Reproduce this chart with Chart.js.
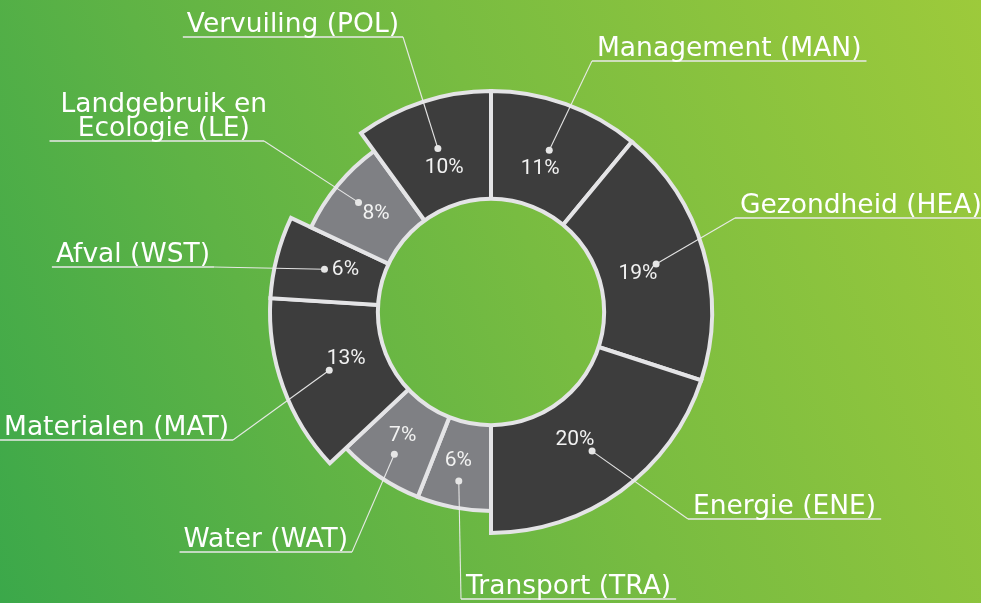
<!DOCTYPE html>
<html>
<head>
<meta charset="utf-8">
<script src="https://cdn.jsdelivr.net/npm/chart.js@4/dist/chart.umd.min.js"></script>
<style>
  html, body {
    margin: 0;
    padding: 0;
    width: 981px;
    height: 603px;
    overflow: hidden;
    background: linear-gradient(68deg, #3ba84a 0%, #5fb345 30%, #78bc41 55%, #9dca3b 100%);
  }
  #wrap { position: relative; width: 981px; height: 603px; }
</style>
</head>
<body>
<div id="wrap"><canvas id="chart"></canvas></div>
<script>
// BREEAM categorieën, kloksgewijs vanaf boven
const categories = [
  'Management (MAN)',
  'Gezondheid (HEA)',
  'Energie (ENE)',
  'Transport (TRA)',
  'Water (WAT)',
  'Materialen (MAT)',
  'Afval (WST)',
  ['Landgebruik en', 'Ecologie (LE)'],
  'Vervuiling (POL)'
];
// aandeel in % (hoek van het segment)
const shares = [11, 19, 20, 6, 7, 13, 6, 8, 10];
// buitenstraal van het segment (relatief, 100 = volle ring)
const ringSize = [100, 100, 100, 90, 90, 100, 100, 90, 100];

const DARK = '#3d3d3d';
const LIGHT = '#7f8084';
const RING_BORDER = '#e4e4e6';
const HOLE_RATIO = 0.512;   // gat in het midden, deel van de straal
const DOT_RATIO = 0.778;

// knikpunt van elke callout t.o.v. het midden, en de kant waar de tekst staat
const calloutLayout = [
  { dx: 101, dy: -251, side: 'right' },
  { dx: 244, dy: -94, side: 'right' },
  { dx: 197, dy: 207, side: 'right' },
  { dx: -30, dy: 287, side: 'right' },
  { dx: -139, dy: 240, side: 'left' },
  { dx: -258, dy: 128, side: 'left' },
  { dx: -277, dy: -45, side: 'left' },
  { dx: -227, dy: -171, side: 'left' },
  { dx: -88, dy: -275, side: 'left' }
];

const totalShare = shares.reduce((a, b) => a + b, 0);

const calloutPlugin = {
  id: 'callouts',
  afterDatasetsDraw(chart) {
    const ctx = chart.ctx;
    const scale = chart.scales.r;
    const cx = scale.xCenter;
    const cy = scale.yCenter;
    const R = scale.drawingArea;
    const holeR = R * HOLE_RATIO;

    ctx.save();
    // gat uitsnijden zodat de achtergrond zichtbaar wordt
    ctx.globalCompositeOperation = 'destination-out';
    ctx.beginPath();
    ctx.arc(cx, cy, holeR, 0, Math.PI * 2);
    ctx.fill();
    ctx.globalCompositeOperation = 'source-over';
    ctx.lineWidth = 4;
    ctx.strokeStyle = RING_BORDER;
    ctx.beginPath();
    ctx.arc(cx, cy, holeR, 0, Math.PI * 2);
    ctx.stroke();

    const arcs = chart.getDatasetMeta(0).data;
    arcs.forEach((arc, i) => {
      const mid = (arc.startAngle + arc.endAngle) / 2;
      const dot = { x: cx + Math.cos(mid) * R * DOT_RATIO, y: cy + Math.sin(mid) * R * DOT_RATIO };
      const lay = calloutLayout[i];
      const elbow = { x: cx + lay.dx, y: cy + lay.dy };

      // percentage staat aan de andere kant van de stip dan de aanwijslijn
      const vx = dot.x - elbow.x, vy = dot.y - elbow.y;
      const vl = Math.hypot(vx, vy);
      const pct = { x: dot.x + vx / vl * 21, y: dot.y + vy / vl * 20 };

      // tekst meten
      const lines = Array.isArray(categories[i]) ? categories[i] : [categories[i]];
      ctx.font = '26.5px "DejaVu Sans"';
      const maxW = Math.max(...lines.map(l => ctx.measureText(l).width));

      let lineStart, lineEnd;
      if (lay.side === 'right') {
        lineStart = elbow.x;
        lineEnd = elbow.x + maxW + 10;
      } else {
        lineStart = elbow.x - maxW - 8;
        lineEnd = elbow.x;
      }

      // aanwijslijn
      ctx.strokeStyle = 'rgba(236,236,236,0.95)';
      ctx.lineWidth = 1.1;
      ctx.beginPath();
      ctx.moveTo(dot.x, dot.y);
      ctx.lineTo(elbow.x, elbow.y);
      ctx.stroke();

      // onderstreping
      ctx.strokeStyle = '#e8e8e8';
      ctx.lineWidth = 1.6;
      ctx.beginPath();
      ctx.moveTo(lineStart, elbow.y);
      ctx.lineTo(lineEnd, elbow.y);
      ctx.stroke();

      // stip
      ctx.fillStyle = '#e6e6e6';
      ctx.beginPath();
      ctx.arc(dot.x, dot.y, 3.5, 0, Math.PI * 2);
      ctx.fill();

      // categorie-tekst
      ctx.fillStyle = '#ffffff';
      ctx.textBaseline = 'alphabetic';
      const lineH = 24;
      if (lines.length === 1) {
        ctx.textAlign = 'left';
        const tx = lay.side === 'right' ? elbow.x + 5 : elbow.x - 4 - maxW;
        ctx.fillText(lines[0], tx, elbow.y - 5);
      } else {
        ctx.textAlign = 'center';
        const tcx = elbow.x - maxW / 2 + 3;
        lines.forEach((l, k) => {
          ctx.fillText(l, tcx, elbow.y - 5 - (lines.length - 1 - k) * lineH);
        });
      }

      // percentage
      ctx.font = '21px Roboto';
      ctx.fillStyle = '#f2f2f2';
      ctx.textAlign = 'center';
      ctx.textBaseline = 'middle';
      ctx.fillText(shares[i] + '%', pct.x, pct.y);
    });
    ctx.restore();
  }
};

new Chart(document.getElementById('chart'), {
  type: 'polarArea',
  data: {
    labels: categories.map(c => Array.isArray(c) ? c.join(' ') : c),
    datasets: [{
      data: ringSize,
      angle: (c) => shares[c.dataIndex] / totalShare * 360,
      backgroundColor: ringSize.map(v => v === 100 ? DARK : LIGHT),
      borderColor: RING_BORDER,
      borderWidth: 4,
      borderJoinStyle: 'miter'
    }]
  },
  options: {
    responsive: true,
    maintainAspectRatio: false,
    animation: false,
    events: [],
    layout: { padding: { top: 91, bottom: 70, left: 1, right: 0 } },
    plugins: {
      legend: { display: false },
      tooltip: { enabled: false }
    },
    scales: {
      r: {
        min: 0,
        max: 100,
        startAngle: 0,
        ticks: { display: false },
        grid: { display: false },
        angleLines: { display: false },
        pointLabels: { display: false }
      }
    }
  },
  plugins: [calloutPlugin]
});
</script>
</body>
</html>
